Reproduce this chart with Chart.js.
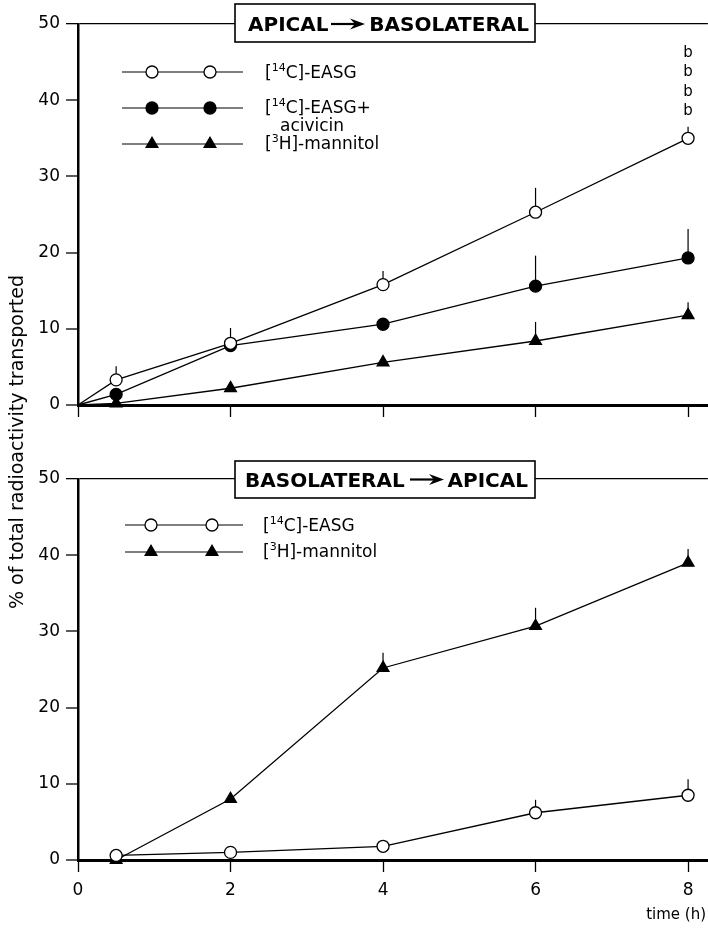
<!DOCTYPE html>
<html><head><meta charset="utf-8">
<script src="https://cdn.jsdelivr.net/npm/chart.js@4/dist/chart.umd.min.js"></script>
<style>
html,body{margin:0;padding:0;background:#fff}
body{width:708px;height:928px;overflow:hidden;position:relative;font-family:"DejaVu Sans",sans-serif}
#c1{position:absolute;left:0;top:0}
#c2{position:absolute;left:0;top:460px}
#ytitle{position:absolute;left:16px;top:442px;transform:translate(-50%,-50%) rotate(-90deg);white-space:nowrap;font-size:19px;color:#000;font-family:"DejaVu Sans",sans-serif}
</style></head><body>
<canvas id="c1" width="716" height="460"></canvas>
<canvas id="c2" width="716" height="468"></canvas>
<div id="ytitle">% of total radioactivity transported</div>
<script>
// ---- data ----
const times = [0.5, 2, 4, 6, 8];
const xTickValues = [0, 2, 4, 6, 8];
const yTickValues = [0, 10, 20, 30, 40, 50];
// Apical -> Basolateral
const apEasg = [3.3, 8.1, 15.8, 25.3, 35.0];
const apEasgErr = [1.8, 2.0, 1.8, 3.2, 1.5];
const apAcivicin = [1.4, 7.8, 10.6, 15.6, 19.3];
const apAcivicinErr = [0, 0, 0, 4.0, 3.8];
const apMannitol = [0.2, 2.2, 5.6, 8.4, 11.8];
const apMannitolErr = [0, 0, 0, 2.5, 1.7];
const apSignificance = ['b', 'b', 'b', 'b'];
// Basolateral -> Apical
const baEasg = [0.6, 1.0, 1.8, 6.2, 8.5];
const baEasgErr = [0, 0, 0, 1.7, 2.1];
const baMannitol = [0.0, 8.0, 25.2, 30.7, 39.0];
const baMannitolErr = [0, 0, 2.0, 2.4, 1.8];

const FONT = '"DejaVu Sans", sans-serif';

function pts(vals, withOrigin) {
  const p = times.map((t, i) => ({x: t, y: vals[i]}));
  return withOrigin ? [{x: 0, y: 0}].concat(p) : p;
}
function ds(vals, errs, style, filled, withOrigin) {
  const n = vals.length + (withOrigin ? 1 : 0);
  const radius = style === 'triangle' ? 6.8 : 6;
  return {
    data: pts(vals, withOrigin),
    errs: withOrigin ? [0].concat(errs) : errs.slice(),
    borderColor: '#000', borderWidth: 1.3,
    backgroundColor: filled ? '#000' : '#fff',
    pointStyle: style,
    pointRadius: Array.from({length: n}, (_, i) => (withOrigin && i === 0) ? 0 : radius),
    pointBorderWidth: 1.3,
    pointBackgroundColor: filled ? '#000' : '#fff',
    pointBorderColor: '#000',
    tension: 0, clip: false, fill: false
  };
}

function drawMarker(ctx, style, filled, x, y) {
  ctx.save();
  ctx.lineWidth = 1.3; ctx.strokeStyle = '#000'; ctx.fillStyle = filled ? '#000' : '#fff';
  ctx.beginPath();
  if (style === 'circle') ctx.arc(x, y, 6, 0, Math.PI * 2);
  else {
    const r = 6.8;
    for (let k = 0; k < 3; k++) {
      const a = k * 2 * Math.PI / 3;
      const px = x + r * Math.sin(a), py = y - r * Math.cos(a);
      if (k === 0) ctx.moveTo(px, py); else ctx.lineTo(px, py);
    }
    ctx.closePath();
  }
  ctx.fill(); ctx.stroke(); ctx.restore();
}
function drawSupLabel(ctx, x, y, pre, sup, post) {
  ctx.save();
  ctx.fillStyle = '#000'; ctx.textBaseline = 'middle'; ctx.textAlign = 'left';
  ctx.font = '17px ' + FONT; ctx.fillText(pre, x, y); x += ctx.measureText(pre).width;
  ctx.font = '11px ' + FONT; ctx.fillText(sup, x, y - 6); x += ctx.measureText(sup).width;
  ctx.font = '17px ' + FONT; ctx.fillText(post, x, y);
  ctx.restore();
}
function legendRow(ctx, y, x1, x2, m1, m2, style, filled) {
  ctx.save(); ctx.strokeStyle = '#000'; ctx.lineWidth = 1.2;
  ctx.beginPath(); ctx.moveTo(x1, y); ctx.lineTo(x2, y); ctx.stroke(); ctx.restore();
  drawMarker(ctx, style, filled, m1, y);
  drawMarker(ctx, style, filled, m2, y);
}
function arrow(ctx, x1, x2, y) {
  ctx.save(); ctx.strokeStyle = '#000'; ctx.fillStyle = '#000'; ctx.lineWidth = 2.2;
  ctx.beginPath(); ctx.moveTo(x1, y); ctx.lineTo(x2 - 10, y); ctx.stroke();
  ctx.beginPath(); ctx.moveTo(x2, y); ctx.lineTo(x2 - 15, y - 5.5); ctx.lineTo(x2 - 10, y); ctx.lineTo(x2 - 15, y + 5.5); ctx.closePath(); ctx.fill();
  ctx.restore();
}
function titleBox(ctx, bx, by, bw, bh, left, lx, right, rx, base, ax1, ax2, ay) {
  ctx.save();
  ctx.fillStyle = '#fff'; ctx.fillRect(bx, by, bw, bh);
  ctx.strokeStyle = '#000'; ctx.lineWidth = 1.6; ctx.strokeRect(bx, by, bw, bh);
  ctx.fillStyle = '#000'; ctx.font = 'bold 20px ' + FONT; ctx.textBaseline = 'alphabetic';
  ctx.textAlign = 'left'; ctx.fillText(left, lx, base);
  ctx.textAlign = 'right'; ctx.fillText(right, rx, base);
  ctx.restore();
  arrow(ctx, ax1, ax2, ay);
}

const errorBars = {
  id: 'errorBars',
  beforeDatasetsDraw(chart) {
    const ctx = chart.ctx, ys = chart.scales.y;
    ctx.save(); ctx.strokeStyle = '#000'; ctx.lineWidth = 1.2;
    chart.data.datasets.forEach((d, di) => {
      const meta = chart.getDatasetMeta(di);
      meta.data.forEach((el, i) => {
        const e = d.errs[i];
        if (!e) return;
        const top = ys.getPixelForValue(d.data[i].y + e);
        ctx.beginPath(); ctx.moveTo(el.x, el.y); ctx.lineTo(el.x, top); ctx.stroke();
      });
    });
    ctx.restore();
  }
};

const topDecor = {
  id: 'topDecor',
  afterDraw(chart) {
    const ctx = chart.ctx;
    titleBox(ctx, 235, 4, 300, 38, 'APICAL', 248, 'BASOLATERAL', 529, 31, 331, 365, 24);
    legendRow(ctx, 72, 122, 243, 152, 210, 'circle', false);
    legendRow(ctx, 108, 122, 243, 152, 210, 'circle', true);
    legendRow(ctx, 144, 122, 243, 152, 210, 'triangle', true);
    drawSupLabel(ctx, 265, 74, '[', '14', 'C]-EASG');
    drawSupLabel(ctx, 265, 109, '[', '14', 'C]-EASG+');
    ctx.save(); ctx.font = '17px ' + FONT; ctx.fillStyle = '#000'; ctx.textBaseline = 'middle';
    ctx.fillText('acivicin', 280, 127); ctx.restore();
    drawSupLabel(ctx, 265, 145, '[', '3', 'H]-mannitol');
    const xs = chart.scales.x;
    ctx.save(); ctx.font = '15px ' + FONT; ctx.fillStyle = '#000'; ctx.textAlign = 'center'; ctx.textBaseline = 'middle';
    apSignificance.forEach((s, i) => ctx.fillText(s, xs.getPixelForValue(times[times.length - 1]), 53 + i * 19.5));
    ctx.restore();
  }
};
const bottomDecor = {
  id: 'bottomDecor',
  afterDraw(chart) {
    const ctx = chart.ctx;
    titleBox(ctx, 235, 1, 300, 37, 'BASOLATERAL', 245, 'APICAL', 528, 27, 410, 444, 19.5);
    legendRow(ctx, 65, 125, 243, 151, 212, 'circle', false);
    legendRow(ctx, 92, 125, 243, 151, 212, 'triangle', true);
    drawSupLabel(ctx, 263, 67, '[', '14', 'C]-EASG');
    drawSupLabel(ctx, 263, 93, '[', '3', 'H]-mannitol');
    ctx.save(); ctx.font = '15px ' + FONT; ctx.fillStyle = '#000'; ctx.textAlign = 'right'; ctx.textBaseline = 'middle';
    ctx.fillText('time (h)', 706, 455); ctx.restore();
  }
};

function scales(xHeight, showXLabels) {
  return {
    x: {
      type: 'linear', min: 0, max: 8.26,
      afterBuildTicks(s) { s.ticks = xTickValues.map(v => ({value: v})); },
      afterFit(s) { s.height = xHeight; },
      border: {display: true, color: '#000', width: 3},
      grid: {display: true, drawOnChartArea: false, drawTicks: true, tickLength: 12, tickColor: '#000', tickWidth: 1.3},
      ticks: {display: showXLabels, color: '#000', padding: 8, font: {family: 'DejaVu Sans', size: 17}, maxRotation: 0}
    },
    y: {
      type: 'linear', min: 0, max: 50,
      afterBuildTicks(s) { s.ticks = yTickValues.map(v => ({value: v})); },
      afterFit(s) { s.width = 78; },
      border: {display: true, color: '#000', width: 2.5},
      grid: {
        display: true, drawOnChartArea: true, drawTicks: true, tickLength: 12,
        color: c => (c.tick && c.tick.value === 50) ? '#000' : 'rgba(0,0,0,0)',
        lineWidth: c => (c.tick && c.tick.value === 50) ? 1.3 : 0,
        tickColor: '#000', tickWidth: 1.3
      },
      ticks: {color: '#000', padding: 6, font: {family: 'DejaVu Sans', size: 17}}
    }
  };
}
function baseOptions(padTop, xHeight, showXLabels) {
  return {
    responsive: false, animation: false, devicePixelRatio: 1,
    layout: {padding: {top: padTop, right: 0, left: 0, bottom: 0}},
    plugins: {legend: {display: false}, tooltip: {enabled: false}, title: {display: false}},
    scales: scales(xHeight, showXLabels)
  };
}

new Chart(document.getElementById('c1'), {
  type: 'line',
  data: {datasets: [
    ds(apEasg, apEasgErr, 'circle', false, true),
    ds(apAcivicin, apAcivicinErr, 'circle', true, true),
    ds(apMannitol, apMannitolErr, 'triangle', true, true)
  ]},
  options: baseOptions(24, 55, false),
  plugins: [errorBars, topDecor]
});
new Chart(document.getElementById('c2'), {
  type: 'line',
  data: {datasets: [
    ds(baEasg, baEasgErr, 'circle', false, false),
    ds(baMannitol, baMannitolErr, 'triangle', true, false)
  ]},
  options: baseOptions(19, 68, true),
  plugins: [errorBars, bottomDecor]
});
</script>
</body></html>
